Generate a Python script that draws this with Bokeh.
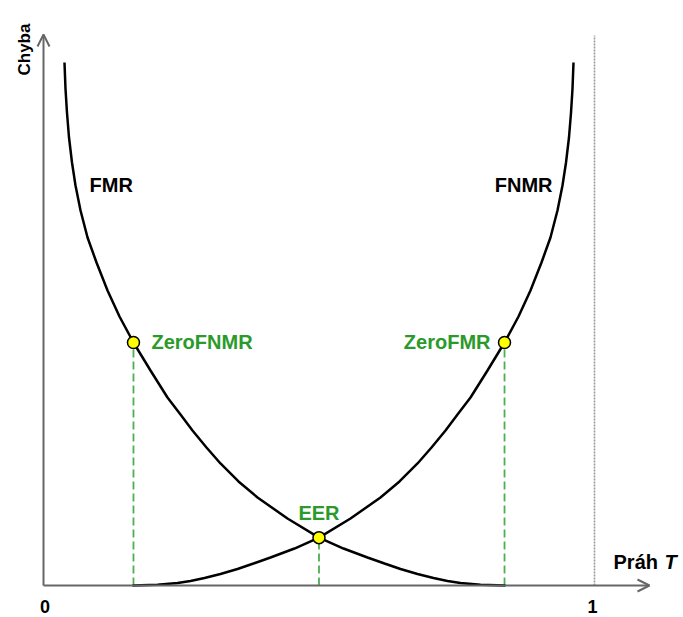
from bokeh.plotting import figure
from bokeh.models import Label, Arrow, OpenHead, ColumnDataSource
from bokeh.embed import file_html
from bokeh.resources import INLINE
import math

# ---------------- data ----------------
fmr_x = [0.0381, 0.0399, 0.0426, 0.0463, 0.0517, 0.0581, 0.0672, 0.0799, 0.0962, 0.1162,
         0.1379, 0.1633, 0.1942, 0.2250, 0.2486, 0.2704, 0.2958, 0.3212, 0.3539, 0.3884,
         0.4428, 0.5000, 0.5445, 0.5880, 0.6189, 0.6479, 0.6788, 0.7078, 0.7332, 0.7568,
         0.7931, 0.8385]
fmr_y = [1.000, 0.9503, 0.9044, 0.8566, 0.8088, 0.7648, 0.7170, 0.6654, 0.6176, 0.5641,
         0.5143, 0.4646, 0.4111, 0.3595, 0.3270, 0.2964, 0.2639, 0.2333, 0.1989, 0.1683,
         0.1281, 0.0915, 0.0707, 0.0535, 0.0421, 0.0315, 0.0220, 0.0143, 0.0086, 0.0048,
         0.0013, 0.0]

fnmr_x = [0.1615, 0.2069, 0.2432, 0.2668, 0.2922, 0.3212, 0.3521, 0.3811, 0.4120, 0.4555,
          0.5000, 0.5572, 0.6116, 0.6461, 0.6788, 0.7042, 0.7296, 0.7514, 0.7750, 0.8058,
          0.8367, 0.8621, 0.8838, 0.9038, 0.9201, 0.9328, 0.9419, 0.9483, 0.9537, 0.9574,
          0.9601, 0.9619]
fnmr_y = [0.0, 0.0013, 0.0048, 0.0086, 0.0143, 0.0220, 0.0315, 0.0421, 0.0535, 0.0707,
          0.0915, 0.1281, 0.1683, 0.1989, 0.2333, 0.2639, 0.2964, 0.3270, 0.3595, 0.4111,
          0.4646, 0.5143, 0.5641, 0.6176, 0.6654, 0.7170, 0.7648, 0.8088, 0.8566, 0.9044,
          0.9503, 1.000]

point_names = ["ZeroFNMR", "EER", "ZeroFMR"]
point_x = [0.1633, 0.5000, 0.8367]
point_y = [0.4646, 0.0915, 0.4646]

tick_labels = ["0", "1"]
tick_values = [0.0, 1.0]

x_label = "Práh "
x_label_var = "T"
y_label = "Chyba"
curve_names = ["FMR", "FNMR"]

# ---------------- layout ----------------
FONT = "Liberation Sans"
GREEN_TXT = "#2a9a2a"
GREEN_LINE = "#4caf50"
AXIS_COL = "#666666"

# the page template has no body margin: the figure fills the window
p = figure(width=683, height=617,
           x_range=(-0.078040, 1.161525), y_range=(-0.061185, 1.118547),
           x_axis_type=None, y_axis_type=None,
           output_backend="svg", toolbar_location=None,
           min_border=0, outline_line_color=None)

x_axis_end = 1.0998
y_axis_end = 1.0535
dotted_top = 1.0516

# dotted line at T = 1
p.segment(x0=[tick_values[1]], y0=[0], x1=[tick_values[1]], y1=[dotted_top],
          line_color="#9a9a9a", line_width=1.6, line_dash="2 1")

# axes with arrows
p.add_layout(Arrow(end=OpenHead(size=12, line_color=AXIS_COL, line_width=2),
                   x_start=0, y_start=0, x_end=0, y_end=y_axis_end,
                   line_color=AXIS_COL, line_width=2))
p.add_layout(Arrow(end=OpenHead(size=12, line_color=AXIS_COL, line_width=2),
                   x_start=0, y_start=0, x_end=x_axis_end, y_end=0,
                   line_color=AXIS_COL, line_width=2))

# dashed green drop lines
src = ColumnDataSource(dict(x=point_x, y=point_y, y0=[0] * len(point_x)))
p.segment(x0="x", y0="y0", x1="x", y1="y", source=src,
          line_color=GREEN_LINE, line_width=1.8, line_dash="8 4")

# curves
p.line(fmr_x, fmr_y, line_color="black", line_width=2.5)
p.line(fnmr_x, fnmr_y, line_color="black", line_width=2.5)

# points
p.scatter("x", "y", source=src, size=12, fill_color="#ffff00",
          line_color="black", line_width=1.5)

def lab(x, y, text, color="black", align="left", size="20px", style="bold",
        baseline="middle", angle=0.0):
    p.add_layout(Label(x=x, y=y, text=text, text_font=FONT, text_font_size=size,
                       text_font_style=style, text_color=color, text_align=align,
                       text_baseline=baseline, angle=angle))

lab(0.0835, 0.7667, curve_names[0])
lab(0.9238, 0.7667, curve_names[1], align="right")
lab(0.1960, 0.4665, point_names[0], color=GREEN_TXT)
lab(0.8113, 0.4665, point_names[2], color=GREEN_TXT, align="right")
lab(0.5000, 0.1386, point_names[1], color=GREEN_TXT, align="center")
lab(tick_values[0] + 0.0027, -0.0411, tick_labels[0], align="center", size="18px")
lab(tick_values[1] - 0.0036, -0.0411, tick_labels[1], align="center", size="18px")
lab(1.0345, 0.0449, x_label)
lab(1.1270, 0.0449, x_label_var, style="bold italic")
lab(-0.0345, 0.9751, y_label, size="17px", baseline="alphabetic", angle=math.pi / 2)

open("out.html", "w").write(file_html(p, INLINE))
